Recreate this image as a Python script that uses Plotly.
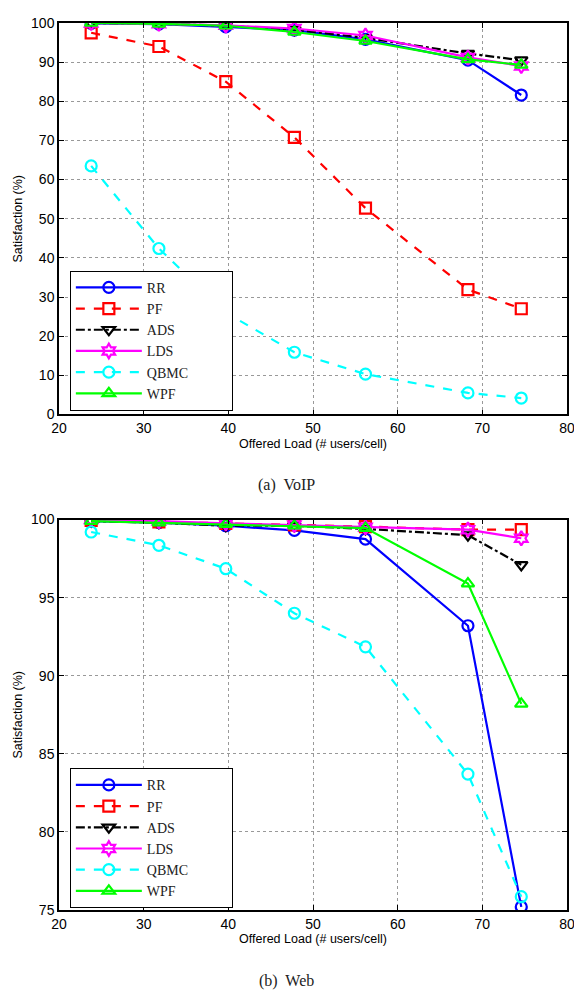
import plotly.graph_objects as go

load = [23.8, 31.8, 39.7, 47.8, 56.2, 68.3, 74.6]
names = ["RR", "PF", "ADS", "LDS", "QBMC", "WPF"]

voip = {
    "RR":   [99.9, 99.7, 99.0, 98.2, 95.8, 90.5, 81.6],
    "PF":   [97.5, 94.0, 85.0, 70.8, 52.7, 31.9, 27.0],
    "ADS":  [100.0, 99.8, 99.3, 98.3, 96.2, 92.2, 90.5],
    "LDS":  [100.0, 99.8, 99.4, 98.6, 96.8, 91.2, 89.0],
    "QBMC": [63.5, 42.4, 26.0, 15.9, 10.3, 5.5, 4.2],
    "WPF":  [100.0, 99.8, 99.3, 97.7, 95.4, 90.7, 89.3],
}
web = {
    "RR":   [99.9, 99.8, 99.6, 99.3, 98.75, 93.2, 75.2],
    "PF":   [99.95, 99.85, 99.75, 99.65, 99.55, 99.35, 99.35],
    "ADS":  [99.9, 99.8, 99.6, 99.6, 99.4, 99.0, 97.1],
    "LDS":  [100.0, 99.9, 99.75, 99.65, 99.5, 99.35, 98.8],
    "QBMC": [99.2, 98.35, 96.85, 94.0, 91.85, 83.7, 75.85],
    "WPF":  [99.9, 99.8, 99.7, 99.6, 99.45, 95.9, 88.2],
}

style = {
    "RR":   dict(color="#0000FF", dash="solid", symbol="circle-open"),
    "PF":   dict(color="#FF0000", dash="dash", symbol="square-open"),
    "ADS":  dict(color="#000000", dash="dashdot", symbol="triangle-down-open"),
    "LDS":  dict(color="#FF00FF", dash="solid", symbol="hexagram-open"),
    "QBMC": dict(color="#00FFFF", dash="dash", symbol="circle-open"),
    "WPF":  dict(color="#00FF00", dash="solid", symbol="triangle-up-open"),
}

PAD = "\u00a0" * 11  # widens the legend box like the reference

fig = go.Figure()
for data, xa, ya, leg in [(voip, "x", "y", "legend"), (web, "x2", "y2", "legend2")]:
    for n in names:
        s = style[n]
        fig.add_trace(go.Scatter(
            x=load, y=data[n], name=n + PAD, xaxis=xa, yaxis=ya, legend=leg,
            mode="lines+markers",
            line=dict(color=s["color"], dash=s["dash"], width=2.2),
            marker=dict(symbol=s["symbol"], size=11, color=s["color"],
                        line=dict(width=2.2, color=s["color"])),
        ))

tickfont = dict(family="Liberation Sans, Arial", size=14, color="black")
titlefont = dict(family="Liberation Sans, Arial", size=12.5, color="black")
axis_common = dict(
    showline=True, linecolor="black", linewidth=1.5, mirror="ticks",
    ticks="inside", ticklen=5, tickcolor="black", tickwidth=1,
    showgrid=True, gridcolor="#999999", griddash="dot", gridwidth=1,
    zeroline=False, tickfont=tickfont,
)

# page body has an 8px default margin; compensate so the plot lands at the same pixels
W, H = 574, 986
ml, mr, mt, mb = 51, 8, 7, 84
ph = H - mt - mb  # 895


def py(pix):
    # convert page pixel y to paper fraction
    return (910 - pix) / ph


top_dom = [py(410), 1.0]
bot_dom = [0.0, py(516)]

legfont = dict(family="Liberation Serif, Times New Roman", size=14, color="#222")

fig.update_layout(
    width=W, height=H,
    margin=dict(l=ml, r=mr, t=mt, b=mb),
    plot_bgcolor="white", paper_bgcolor="white",
    showlegend=True,
    xaxis=dict(domain=[0, 1], range=[20, 80], dtick=10, anchor="y",
               title=dict(text="Offered Load (# users/cell)", font=titlefont, standoff=4),
               **axis_common),
    yaxis=dict(domain=top_dom, range=[0, 100], dtick=10, anchor="x",
               title=dict(text="Satisfaction (%)", font=titlefont, standoff=6),
               **axis_common),
    xaxis2=dict(domain=[0, 1], range=[20, 80], dtick=10, anchor="y2",
                title=dict(text="Offered Load (# users/cell)", font=titlefont, standoff=4),
                **axis_common),
    yaxis2=dict(domain=bot_dom, range=[75, 100], dtick=5, anchor="x2",
                title=dict(text="Satisfaction (%)", font=titlefont, standoff=6),
                **axis_common),
    legend=dict(x=(70 - 59) / 515, y=py(265), xanchor="left", yanchor="top",
                bordercolor="black", borderwidth=1, bgcolor="white",
                font=legfont, itemwidth=66, tracegroupgap=0),
    legend2=dict(x=(70 - 59) / 515, y=py(767), xanchor="left", yanchor="top",
                 bordercolor="black", borderwidth=1, bgcolor="white",
                 font=legfont, itemwidth=66, tracegroupgap=0),
    annotations=[
        dict(text="(a)  VoIP", xref="paper", yref="paper", x=(290 - 59) / 515, y=py(481),
             xanchor="center", yanchor="middle", showarrow=False,
             font=dict(family="Liberation Serif, Times New Roman", size=16, color="#222")),
        dict(text="(b)  Web", xref="paper", yref="paper", x=(290 - 59) / 515, y=py(982),
             xanchor="center", yanchor="middle", showarrow=False,
             font=dict(family="Liberation Serif, Times New Roman", size=16, color="#222")),
    ],
)

fig.write_html("out.html")
